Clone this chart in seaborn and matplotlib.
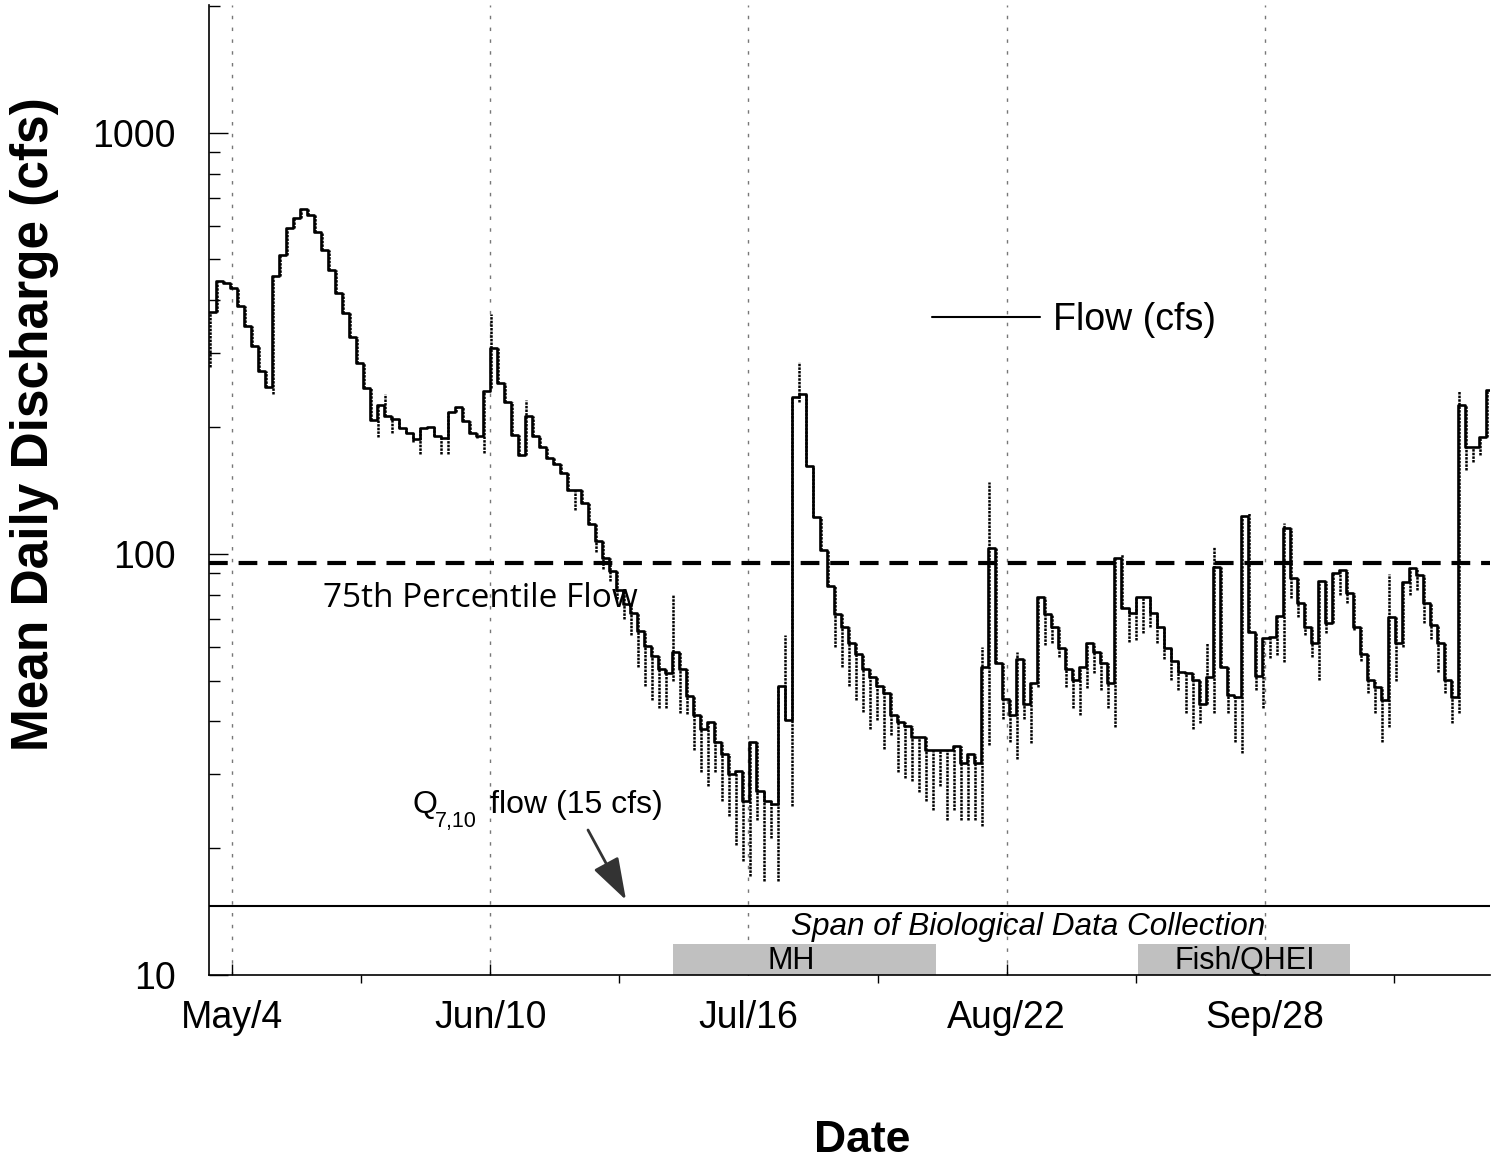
import numpy as np
import pandas as pd
import matplotlib
matplotlib.use("Agg")
import matplotlib.pyplot as plt
import seaborn as sns
from matplotlib.ticker import FixedLocator, FixedFormatter, NullFormatter

# ---------------- data ----------------
# daily mean discharge (cfs), one value per day starting ~May 1
flow = [376, 445, 440, 428, 388, 348, 312, 272, 249, 457,
        513, 595, 628, 660, 638, 582, 527, 473, 417, 374,
        328, 284, 247, 208, 226, 213, 209, 199, 194, 187,
        199, 200, 190, 188, 217, 223, 207, 194, 190, 243,
        308, 255, 230, 191, 172, 213, 190, 179, 169, 163,
        156, 142, 142, 132, 118, 107, 98, 91, 82, 76,
        72.5, 65.6, 60.4, 57.3, 53.3, 52.2, 58.4, 53.3, 46, 41.5,
        38.4, 39.9, 35.8, 33.5, 30, 30.5, 25.9, 35.8, 27.3, 25.9,
        25.5, 48.5, 40.3, 236, 240, 162, 122, 102, 84, 72,
        66.9, 61.5, 57.8, 53.3, 50.9, 48.6, 46.8, 41.5, 39.9, 39,
        36.7, 36.7, 34.2, 34.2, 34.2, 34.2, 35, 31.8, 33.5, 31.8,
        54, 103, 55, 45.3, 41.5, 56.4, 44, 49.4, 79, 72,
        67, 59.9, 53.3, 50.2, 54, 61.5, 58.5, 55, 49.4, 97.8,
        74.4, 72.5, 79, 79, 72.5, 67, 59.9, 55.7, 52.5, 52,
        50.2, 44, 51, 93, 54, 46.3, 45.6, 123, 65.3, 51.3,
        63, 63.6, 71.3, 115, 87.7, 76.5, 67, 61.5, 86.3, 68.6,
        90.1, 91.6, 80.7, 67, 57.8, 50.2, 48.3, 45, 70.8, 61.5,
        85.9, 92.7, 89, 76.5, 67.8, 61.5, 50.2, 45.6, 226, 179,
        179, 189, 245]

# daily minimum discharge (bottom of the dotted daily range lines)
flow_low = [277, 376, 440, 428, 388, 348, 312, 272, 249, 240,
            457, 513, 595, 628, 638, 582, 527, 473, 417, 374,
            328, 284, 247, 208, 189, 213, 194, 199, 194, 184,
            173, 199, 190, 173, 173, 217, 207, 194, 188, 174,
            247, 255, 230, 191, 172, 172, 190, 179, 169, 163,
            156, 142, 127, 132, 118, 101, 92, 86, 78, 70,
            64, 54, 48.5, 45, 43, 43, 50, 42, 41.7, 34.2,
            30.4, 28.1, 30.4, 25.9, 23.9, 20.4, 18.6, 17.2, 23.3, 16.7,
            21.1, 16.7, 40.3, 25.2, 230, 162, 122, 102, 84, 60,
            54, 48.5, 45, 42.2, 38.4, 40.3, 34.4, 37.2, 30.3, 29.4,
            28.9, 27.2, 25.9, 24.6, 28.1, 23.3, 24.7, 23.3, 23.3, 23.3,
            22.6, 35.2, 55, 40.5, 35.8, 32.6, 40.5, 35.5, 48.3, 60.8,
            61.5, 57, 48.3, 43, 41.5, 48, 52, 47.5, 43, 38.8,
            74.4, 61.9, 62.5, 65, 67, 61.5, 56.4, 50.3, 47.5, 42,
            38.4, 39.7, 44, 42, 54, 42, 35.8, 33.7, 65.3, 47.5,
            43, 56.6, 57.4, 55.4, 78.5, 70.8, 64, 57, 50.2, 65,
            68.6, 80, 76.5, 66, 55.7, 46.8, 42, 35.8, 38.8, 50,
            60, 80, 82, 68.6, 62.7, 52.4, 46.8, 39.7, 42, 158,
            165, 172, 189]

# short peaks above the daily means
spike_days = [25, 40, 45, 66, 82, 84, 110, 111, 115, 130, 142, 143, 148, 153, 168, 178]
spike_tops = [240, 372, 232, 80, 64, 286, 60, 148, 58.4, 100, 61.5, 104, 125, 118.6, 89.5, 244]

pct75_flow = 95
q710_flow = 14.6

tick_labels = ["May/4", "Jun/10", "Jul/16", "Aug/22", "Sep/28"]

span_names = ["MH", "Fish/QHEI"]
span_start = [66.1, 132.4]
span_end = [103.6, 162.6]

# ---------------- figure ----------------
W, H = 1491, 1162
sns.set_theme(style="ticks")
plt.rcParams["font.family"] = ["Liberation Sans", "DejaVu Sans"]
plt.rcParams["text.color"] = "black"
plt.rcParams["axes.labelcolor"] = "black"
plt.rcParams["xtick.color"] = "black"
plt.rcParams["ytick.color"] = "black"

fig = plt.figure(figsize=(W / 100, H / 100), dpi=100)
ax = fig.add_axes([209 / W, 1 - 975 / H, 1281 / W, 970 / H])


def fx(px):
    return px / W


def fy(py):
    return 1 - py / H


n = len(flow)
days = np.arange(n + 1)
df = pd.DataFrame({"day": days, "flow": flow + [flow[-1]]})

sns.lineplot(data=df, x="day", y="flow", drawstyle="steps-post", color="black",
             lw=1.9, ax=ax, label="Flow (cfs)", estimator=None, sort=True, zorder=4)

# daily range lines (dotted)
spk = dict(zip(spike_days, spike_tops))
tops = []
for i in range(n):
    prev = flow[i - 1] if i > 0 else flow[0]
    tops.append(max(prev, flow[i], spk.get(i, 0)))
ax.vlines(np.arange(n) + 0.12, flow_low, tops, colors="black", linewidth=1.8,
          linestyles=(0, (1.0, 0.45)), zorder=2)

# reference lines
ax.axhline(pct75_flow, color="black", lw=3.0, dashes=(4.5, 2.6), zorder=3)
ax.axhline(q710_flow, color="black", lw=1.5, zorder=3)

# biological sampling spans
span_bottom = 10
span_top = 11.85
for s0, s1 in zip(span_start, span_end):
    ax.bar(s0, span_top - span_bottom, width=s1 - s0, bottom=span_bottom,
           align="edge", color="#c0c0c0", edgecolor="none", zorder=1)

# axes
ax.set_yscale("log")
ax.set_xlim(0, 182.5)
ax.set_ylim(10, 2010)

tick0, tick_step = 3.28, 36.79
major_pos = [tick0 + k * tick_step for k in range(len(tick_labels))]
minor_pos = [tick0 + (k + 0.5) * tick_step for k in range(len(tick_labels))]
ax.xaxis.set_major_locator(FixedLocator(major_pos))
ax.xaxis.set_major_formatter(FixedFormatter(tick_labels))
ax.xaxis.set_minor_locator(FixedLocator(minor_pos))

ax.yaxis.set_major_locator(FixedLocator([10, 100, 1000]))
ax.yaxis.set_major_formatter(FixedFormatter(["10", "100", "1000"]))
ax.yaxis.set_minor_locator(FixedLocator([m * d for d in (10, 100, 1000) for m in range(2, 10)
                                         if m * d <= 2000]))
ax.yaxis.set_minor_formatter(NullFormatter())

ax.tick_params(axis="y", which="major", direction="in", length=14, width=1.0,
               labelsize=27, pad=24, colors="black")
ax.tick_params(axis="y", which="minor", direction="in", length=8, width=1.0, colors="black")
ax.tick_params(axis="x", which="major", direction="in", length=8, width=1.0,
               labelsize=27, pad=18, colors="black")
ax.tick_params(axis="x", which="minor", direction="out", length=6, width=1.0, colors="black")

ax.grid(axis="x", which="major", color="#777777", lw=1.0, linestyle=(0, (2.5, 6)))
ax.set_xlabel("")
ax.set_ylabel("")
sns.despine(ax=ax, top=True, right=True)
for sp in ("left", "bottom"):
    ax.spines[sp].set_linewidth(1.2)
    ax.spines[sp].set_color("black")
ax.set_facecolor("white")

# legend
leg = ax.legend(loc="center left", bbox_to_anchor=((932 - 209) / 1281, (975 - 320) / 970),
                frameon=False, fontsize=27, handlelength=2.88, handletextpad=0.35,
                borderpad=0, borderaxespad=0)
for t in leg.get_texts():
    t.set_color("black")
for h in leg.get_lines():
    h.set_linewidth(1.5)

# axis titles
fig.text(fx(35), fy(424), "Mean Daily Discharge (cfs)", rotation=90, ha="center",
         va="center", fontsize=37, fontweight="bold", color="black")
fig.text(fx(862), fy(1140), "Date", ha="center", va="center", fontsize=32,
         fontweight="bold", color="black")

# annotations
fig.text(fx(323), fy(598), "75th Percentile Flow", ha="left", va="center",
         fontsize=24, family=["Open Sans", "DejaVu Sans"], color="black")
fig.text(fx(412), fy(813), "Q", ha="left", va="baseline", fontsize=23, color="black")
fig.text(fx(435), fy(827), "7,10", ha="left", va="baseline", fontsize=15.5, color="black")
fig.text(fx(490), fy(813), "flow (15 cfs)", ha="left", va="baseline", fontsize=23,
         color="black")
ax.annotate("", xy=(fx(626), fy(900)), xytext=(fx(588), fy(830)),
            xycoords="figure fraction", textcoords="figure fraction",
            arrowprops=dict(arrowstyle="-|>,head_length=1.3,head_width=0.43",
                            color="#333333", lw=2, mutation_scale=20,
                            shrinkA=0, shrinkB=0))
fig.text(fx(1028), fy(935), "Span of Biological Data Collection", ha="center",
         va="baseline", fontsize=22.7, style="italic", color="black")
fig.text(fx(791), fy(961), span_names[0], ha="center", va="center", fontsize=22,
         color="black")
fig.text(fx(1245), fy(961), span_names[1], ha="center", va="center", fontsize=22,
         color="black")

fig.savefig("out.png", dpi=100, facecolor="white")
